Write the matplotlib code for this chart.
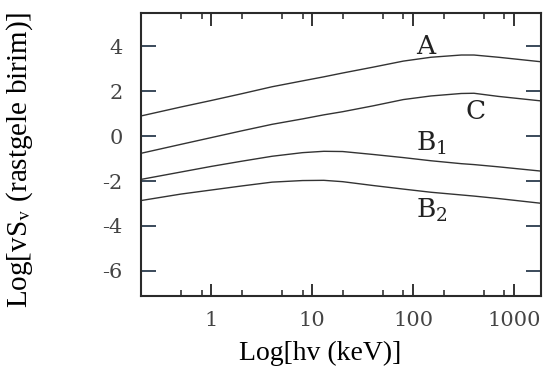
import matplotlib
matplotlib.use("Agg")
import matplotlib.pyplot as plt
from matplotlib.ticker import FixedLocator, FixedFormatter, NullFormatter

plt.rcParams['axes.unicode_minus'] = False
plt.rcParams['font.family'] = ['Liberation Serif', 'DejaVu Serif']

# photon energy (keV) and log flux for each source class
energy = [0.2, 0.5, 1, 2, 4, 8, 13, 20, 40, 80, 150, 300, 400, 700, 1850]
curve_A = [0.89, 1.29, 1.58, 1.88, 2.19, 2.45, 2.63, 2.80, 3.06, 3.33, 3.50, 3.60, 3.60, 3.50, 3.30]
curve_C = [-0.77, -0.37, -0.07, 0.23, 0.52, 0.76, 0.94, 1.08, 1.34, 1.62, 1.78, 1.89, 1.90, 1.76, 1.56]
curve_B1 = [-1.93, -1.60, -1.35, -1.12, -0.90, -0.74, -0.68, -0.69, -0.82, -0.96, -1.10, -1.23, -1.27, -1.37, -1.56]
curve_B2 = [-2.87, -2.58, -2.40, -2.22, -2.05, -1.98, -1.97, -2.03, -2.20, -2.36, -2.50, -2.62, -2.67, -2.78, -2.99]

x_major = [1, 10, 100, 1000]
x_major_labels = ['1', '10', '100', '1000']
x_minor = [0.5, 0.8, 2, 5, 8, 20, 50, 80, 200, 500, 800]
y_major = [-6, -4, -2, 0, 2, 4]

fig = plt.figure(figsize=(5.44, 3.72), dpi=100)
ax = fig.add_axes([0.259, 0.205, 0.7355, 0.759])

for ys in (curve_A, curve_C, curve_B1, curve_B2):
    ax.plot(energy, ys, color='#333333', lw=1.0)

ax.set_xscale('log')
ax.set_xlim(0.2, 1850)
ax.set_ylim(-7.1, 5.45)

ax.xaxis.set_major_locator(FixedLocator(x_major))
ax.xaxis.set_major_formatter(FixedFormatter(x_major_labels))
ax.xaxis.set_minor_locator(FixedLocator(x_minor))
ax.xaxis.set_minor_formatter(NullFormatter())
ax.yaxis.set_major_locator(FixedLocator(y_major))
ax.yaxis.set_minor_locator(FixedLocator([]))

ax.tick_params(axis='x', which='major', direction='in', top=True, length=9, width=1.4,
               pad=11, labelsize=15, labelcolor='#444444', color='#333333')
ax.tick_params(axis='x', which='minor', direction='in', top=True, length=4.5, width=1.2,
               color='#333333')
ax.tick_params(axis='y', which='major', direction='in', right=True, length=11, width=1.4,
               pad=13, labelsize=15, labelcolor='#444444', color='#3a4a5a')
for lab in ax.get_xticklabels() + ax.get_yticklabels():
    lab.set_family('DejaVu Serif')

for s in ax.spines.values():
    s.set_color('#2a2a2a')
    s.set_linewidth(1.5)

# curve names
lbl = dict(fontsize=19, family='DejaVu Serif', color='#222222', ha='center', va='center',
           math_fontfamily='dejavuserif')
ax.text(134, 3.96, 'A', **lbl)
ax.text(411, 1.11, 'C', **lbl)
ax.text(152, -0.35, r'B$_1$', **lbl)
ax.text(152, -3.32, r'B$_2$', **lbl)

ax.set_xlabel('Log[hv (keV)]', fontsize=20, color='black')
ax.xaxis.set_label_coords(0.4475, -0.16)
ax.set_ylabel(r'Log[vS$_{\mathrm{v}}$ (rastgele birim)]', fontsize=21, color='black',
              math_fontfamily='stix')
ax.yaxis.set_label_coords(-0.265, 0.48)

fig.savefig('out.png', dpi=100)
